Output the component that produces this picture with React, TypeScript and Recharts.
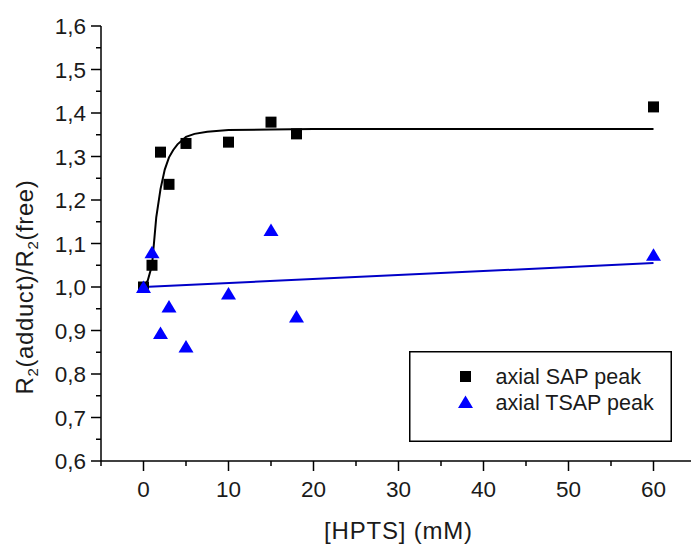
import React from 'react';
import { ScatterChart, Scatter, XAxis, YAxis, Legend } from 'recharts';

// ---- data ----
const sapX = [0, 1, 2, 3, 5, 10, 15, 18, 60];
const sapY = [1.0, 1.05, 1.31, 1.236, 1.33, 1.333, 1.379, 1.352, 1.414];

const tsapX = [0, 1, 2, 3, 5, 10, 15, 18, 60];
const tsapY = [1.0, 1.08, 0.894, 0.955, 0.863, 0.985, 1.131, 0.932, 1.074];

// fitted curves as drawn in the reference
const sapFitX = [0, 0.5, 1, 1.5, 2, 2.5, 3, 3.5, 4, 5, 6, 7.5, 10, 15, 20, 30, 45, 60];
const sapFitY = [1.0, 1.015, 1.05, 1.16, 1.225, 1.27, 1.298, 1.315, 1.328, 1.345, 1.352, 1.357, 1.361, 1.362, 1.363, 1.363, 1.363, 1.363];

const tsapFitX = [0, 60];
const tsapFitY = [1.0, 1.055];

const xTicks = [-5, 0, 5, 10, 15, 20, 25, 30, 35, 40, 45, 50, 55, 60, 65];
const yTicks = [0.6, 0.65, 0.7, 0.75, 0.8, 0.85, 0.9, 0.95, 1.0, 1.05, 1.1, 1.15, 1.2, 1.25, 1.3, 1.35, 1.4, 1.45, 1.5, 1.55, 1.6];

const seriesNames = ['axial SAP peak', 'axial TSAP peak'];
const xTitle = '[HPTS] (mM)';

const zip = (xs: number[], ys: number[]) => xs.map((x, i) => ({ x, y: ys[i] }));
const sapData = zip(sapX, sapY);
const tsapData = zip(tsapX, tsapY);
const sapFit = zip(sapFitX, sapFitY);
const tsapFit = zip(tsapFitX, tsapFitY);

const FONT = '"Liberation Sans", Arial, sans-serif';
const TEXT = '#1a1a1a';
const BLUE = '#0000ff';

const Square = (p: any) => (
  <rect x={p.cx - 5.5} y={p.cy - 5.5} width={11} height={11} fill="#000" />
);
const Tri = (p: any) => (
  <polygon
    points={`${p.cx},${p.cy - 6.5} ${p.cx - 7.5},${p.cy + 6} ${p.cx + 7.5},${p.cy + 6}`}
    fill={BLUE}
  />
);
const NoShape = () => <g />;

const XTick = (p: any) => {
  const v = p.payload.value;
  const major = Math.abs(v % 10) < 1e-9;
  return (
    <g>
      <line x1={p.x} x2={p.x} y1={p.y} y2={p.y + (major ? 10 : 5)} stroke="#000" strokeWidth={1.5} />
      {major && (
        <text x={p.x} y={p.y + 36} textAnchor="middle" fontFamily={FONT} fontSize={22.5} fill={TEXT}>
          {String(v)}
        </text>
      )}
    </g>
  );
};

const YTick = (p: any) => {
  const v = p.payload.value;
  const major = Math.abs(v * 10 - Math.round(v * 10)) < 1e-6;
  return (
    <g>
      <line x1={p.x - (major ? 10 : 5)} x2={p.x} y1={p.y} y2={p.y} stroke="#000" strokeWidth={1.5} />
      {major && (
        <text x={p.x - 15} y={p.y + 8} textAnchor="end" fontFamily={FONT} fontSize={22.5} fill={TEXT}>
          {v.toFixed(1).replace('.', ',')}
        </text>
      )}
    </g>
  );
};

const YTitle = () => (
  <text
    transform="rotate(-90, 33, 287)"
    x={33}
    y={287}
    textAnchor="middle"
    fontFamily={FONT}
    fontSize={24}
    letterSpacing={0.6}
    fill={TEXT}
  >
    R<tspan fontSize={15} dy={5}>2</tspan>
    <tspan dy={-5}>(adduct)/R</tspan>
    <tspan fontSize={15} dy={5}>2</tspan>
    <tspan dy={-5}>(free)</tspan>
  </text>
);

const XTitle = () => (
  <text x={398.5} y={539} textAnchor="middle" fontFamily={FONT} fontSize={24} letterSpacing={0.8} fill={TEXT}>
    {xTitle}
  </text>
);

const LegendBox = () => (
  <svg width={263} height={91} style={{ display: 'block' }}>
    <rect x={0.75} y={0.75} width={261.5} height={89.5} fill="#fff" stroke="#000" strokeWidth={1.5} />
    <rect x={51} y={20} width={11} height={11} fill="#000" />
    <polygon points="56.5,44.5 49,57 64,57" fill={BLUE} />
    <text x={86.5} y={33} fontFamily={FONT} fontSize={21.5} fill={TEXT}>{seriesNames[0]}</text>
    <text x={86.5} y={59} fontFamily={FONT} fontSize={21.5} fill={TEXT}>{seriesNames[1]}</text>
  </svg>
);

export default function App() {
  return (
    <div
      style={{
        position: 'absolute',
        left: 0,
        top: 0,
        width: 691,
        height: 544,
        overflow: 'hidden',
        background: '#fff',
      }}
    >
      <ScatterChart width={720} height={544} margin={{ top: 26, right: 24, bottom: 0, left: 0 }}>
        <XAxis
          type="number"
          dataKey="x"
          domain={[-5, 65]}
          ticks={xTicks}
          interval={0}
          allowDataOverflow
          height={83}
          tickSize={0}
          tickMargin={0}
          tickLine={false}
          tick={<XTick />}
          axisLine={{ stroke: '#000', strokeWidth: 1.5 }}
          label={<XTitle />}
        />
        <YAxis
          type="number"
          dataKey="y"
          domain={[0.6, 1.6]}
          ticks={yTicks}
          interval={0}
          allowDataOverflow
          width={101}
          tickSize={0}
          tickMargin={0}
          tickLine={false}
          tick={<YTick />}
          axisLine={{ stroke: '#000', strokeWidth: 1.5 }}
          label={<YTitle />}
        />
        <Legend
          layout="vertical"
          align="center"
          verticalAlign="middle"
          wrapperStyle={{ left: 409, top: 351, width: 263, height: 91 }}
          content={() => <LegendBox />}
        />
        <Scatter
          name="sap-fit"
          data={sapFit}
          line={{ stroke: '#000', strokeWidth: 2 }}
          shape={<NoShape />}
          legendType="none"
          isAnimationActive={false}
        />
        <Scatter
          name="tsap-fit"
          data={tsapFit}
          line={{ stroke: '#0000c8', strokeWidth: 2 }}
          shape={<NoShape />}
          legendType="none"
          isAnimationActive={false}
        />
        <Scatter name={seriesNames[0]} data={sapData} fill="#000" shape={<Square />} isAnimationActive={false} />
        <Scatter name={seriesNames[1]} data={tsapData} fill={BLUE} shape={<Tri />} isAnimationActive={false} />
      </ScatterChart>
    </div>
  );
}
